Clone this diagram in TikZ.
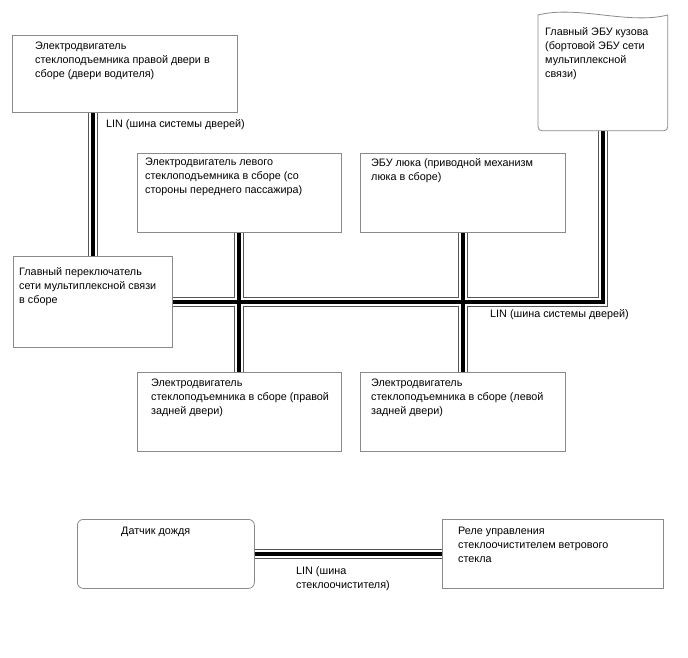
\documentclass[tikz,border=0pt]{standalone}
\usepackage{fontspec}
\setmainfont{Liberation Sans}
\usepackage{tikz}
\usetikzlibrary{positioning, backgrounds}
\definecolor{frameGray}{HTML}{8A8A8A}
\definecolor{busGray}{HTML}{555555}

\begin{document}
\begin{tikzpicture}[
  x=1pt, y=-1pt,
  font=\fontsize{10.8}{14}\selectfont,
  box/.style={draw=frameGray, line width=0.8pt, fill=white, anchor=north west, inner sep=0pt},
  txt/.style={align=left, inner sep=0pt, anchor=north west},
  busout/.style={line width=10pt, draw=busGray},
  busgap/.style={line width=8pt, draw=white},
  buscore/.style={line width=4pt, draw=black}
]
\useasboundingbox (0,0) rectangle (688,658);

% ---------- DOOR BUS UNITS ----------
\node[box, minimum width=225pt, minimum height=77pt] (drv) at (12,35) {};
\node[txt, below right=7pt and 23pt of drv.north west] (drvtxt) {Электродвигатель\\стеклоподъемника правой двери в\\сборе (двери водителя)};

\node[box, draw=none, fill=none, minimum width=129pt, minimum height=115pt] (ecu) at (538,15) {};
\draw[draw=frameGray, line width=0.8pt, rounded corners=4pt] (ecu.north west) -- (ecu.south west) -- (ecu.south east) -- (ecu.north east);
\draw[draw=frameGray, line width=0.8pt] (ecu.north west) .. controls +(40,-10) and +(-40,10) .. (ecu.north east);
\node[txt, below right=12pt and 7pt of ecu.north west] (ecutxt) {Главный ЭБУ кузова\\(бортовой ЭБУ сети\\мультиплексной\\связи)};

\node[box, minimum width=204pt, minimum height=79pt] (lp) at (137,153) {};
\node[txt, below right=5pt and 8pt of lp.north west] (lptxt) {Электродвигатель левого\\стеклоподъемника в сборе (со\\стороны переднего пассажира)};

\node[box, minimum width=205pt, minimum height=79pt] (sr) at (360,153) {};
\node[txt, below right=5pt and 11pt of sr.north west] (srtxt) {ЭБУ люка (приводной механизм\\люка в сборе)};

\node[box, minimum width=159pt, minimum height=91pt] (sw) at (13,256) {};
\node[txt, below right=11pt and 6pt of sw.north west] (swtxt) {Главный переключатель\\сети мультиплексной связи\\в сборе};

\node[box, minimum width=204pt, minimum height=79pt] (rr) at (137,372) {};
\node[txt, below right=7pt and 14pt of rr.north west] (rrtxt) {Электродвигатель\\стеклоподъемника в сборе (правой\\задней двери)};

\node[box, minimum width=205pt, minimum height=79pt] (rl) at (360,372) {};
\node[txt, below right=7pt and 11pt of rl.north west] (rltxt) {Электродвигатель\\стеклоподъемника в сборе (левой\\задней двери)};

% ---------- WIPER BUS UNITS ----------
\node[box, rounded corners=6pt, minimum width=177pt, minimum height=69pt] (rain) at (77,519) {};
\node[txt, below right=8pt and 44pt of rain.north west] (raintxt) {Датчик дождя};

\node[box, minimum width=221pt, minimum height=69pt] (relay) at (442,519) {};
\node[txt, below right=8pt and 16pt of relay.north west] (relaytxt) {Реле управления\\стеклоочистителем ветрового\\стекла};

% ---------- LIN BUSES ----------
\begin{scope}[on background layer]
\foreach \layer in {busout, busgap, buscore} {
  \draw[\layer] (drv.south -| sw.north) -- (sw.north);
  \draw[\layer] (sw.east) -| (ecu.south);
  \draw[\layer] (lp.south) -- (rr.north);
  \draw[\layer] (sr.south) -- (rl.north);
  \draw[\layer] (rain.east) -- (relay.west);
}
\end{scope}

\node[txt] (lin1) at (106,119) {LIN (шина системы дверей)};
\node[txt] (lin2) at (490,309) {LIN (шина системы дверей)};
\node[txt] (lin3) at (296,566) {LIN (шина\\стеклоочистителя)};

\end{tikzpicture}
\end{document}
